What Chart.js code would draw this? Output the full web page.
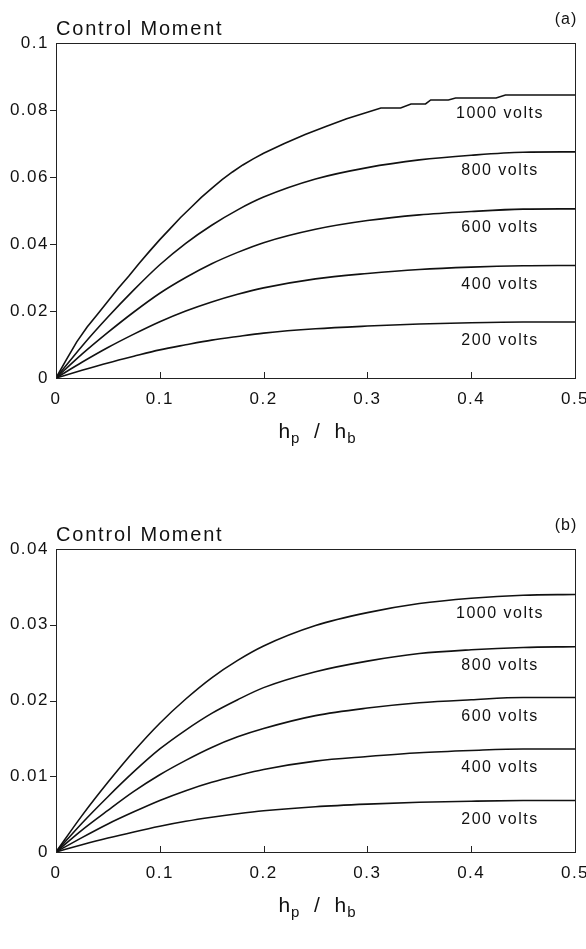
<!DOCTYPE html>
<html>
<head>
<meta charset="utf-8">
<script src="https://cdn.jsdelivr.net/npm/chart.js@4.4.0/dist/chart.umd.min.js"></script>
<style>
  html, body { margin: 0; padding: 0; background: #fff; }
  #wrap { position: relative; width: 586px; height: 949px; }
  canvas { position: absolute; left: 0; }
  #chartA { top: 0; }
  #chartB { top: 475px; }
</style>
</head>
<body>
<div id="wrap">
  <canvas id="chartA" width="586" height="475"></canvas>
  <canvas id="chartB" width="586" height="474"></canvas>
</div>
<script>
const voltLabels = ["200 volts", "400 volts", "600 volts", "800 volts", "1000 volts"];
const xTicks = [0, 0.1, 0.2, 0.3, 0.4, 0.5];
const yTicksA = [0, 0.02, 0.04, 0.06, 0.08, 0.1];
const yTicksB = [0, 0.01, 0.02, 0.03, 0.04];

// x positions for the smooth curves
const xSmooth = [0, 0.025, 0.05, 0.075, 0.1, 0.125, 0.15, 0.175, 0.2, 0.25, 0.3, 0.35, 0.4, 0.45, 0.5];

// panel (a)
const a200 = [0, 0.0023, 0.0045, 0.0065, 0.0084, 0.0099, 0.0113, 0.0124, 0.0134, 0.0147, 0.0155, 0.0161, 0.0165, 0.0167, 0.0167];
const a400 = [0, 0.0047, 0.0091, 0.0131, 0.0168, 0.0200, 0.0227, 0.0250, 0.0269, 0.0296, 0.0312, 0.0324, 0.0331, 0.0335, 0.0336];
const a600 = [0, 0.0071, 0.0136, 0.0197, 0.0253, 0.0300, 0.0341, 0.0375, 0.0404, 0.0444, 0.0470, 0.0487, 0.0497, 0.0504, 0.0505];
const a800 = [0, 0.0095, 0.0182, 0.0263, 0.0338, 0.0402, 0.0456, 0.0502, 0.0540, 0.0594, 0.0628, 0.0651, 0.0665, 0.0674, 0.0675];
// the 1000 volt curve in (a) is ragged, so it has its own x list
const xA1000 = [0, 0.01, 0.02, 0.03, 0.04, 0.05, 0.06, 0.07, 0.08, 0.09, 0.1, 0.11, 0.12, 0.13, 0.14, 0.15, 0.16, 0.17, 0.18, 0.19, 0.2,
                0.22, 0.24, 0.26, 0.28, 0.3, 0.313, 0.332, 0.342, 0.356, 0.361, 0.378, 0.385, 0.424, 0.433, 0.5];
const a1000 = [0, 0.0055, 0.0108, 0.0152, 0.019, 0.0229, 0.0268, 0.0304, 0.0342, 0.0378, 0.0413, 0.0446, 0.0479, 0.0509, 0.0539, 0.0566,
               0.0592, 0.0615, 0.0636, 0.0654, 0.0671, 0.0700, 0.0727, 0.0751, 0.0774, 0.0793, 0.0806, 0.0806, 0.0818, 0.0818, 0.083,
               0.083, 0.0836, 0.0836, 0.0845, 0.0845];

// panel (b)
const b200 = [0, 0.00095, 0.00184, 0.00265, 0.0034, 0.00405, 0.00459, 0.00505, 0.00544, 0.00598, 0.00632, 0.00656, 0.0067, 0.00679, 0.0068];
const b400 = [0, 0.0019, 0.0037, 0.0053, 0.0068, 0.0081, 0.0092, 0.0101, 0.0109, 0.0120, 0.0126, 0.0131, 0.0134, 0.0136, 0.0136];
const b600 = [0, 0.0029, 0.0055, 0.0080, 0.0102, 0.0121, 0.0138, 0.0152, 0.0163, 0.0180, 0.0190, 0.0197, 0.0201, 0.0204, 0.0204];
const b800 = [0, 0.0038, 0.0073, 0.0106, 0.0136, 0.0161, 0.0183, 0.0201, 0.0217, 0.0238, 0.0252, 0.0262, 0.0267, 0.0270, 0.0271];
const b1000 = [0, 0.0048, 0.0092, 0.0133, 0.0170, 0.0202, 0.0230, 0.0253, 0.0272, 0.0299, 0.0316, 0.0328, 0.0335, 0.0339, 0.0340];

const FONT = '"Liberation Sans", Arial, sans-serif';
const INK = "#111";

function pts(xs, ys) {
  return xs.map((x, i) => ({ x: x, y: ys[i] }));
}

function makeSet(label, xs, ys, smooth) {
  return {
    label: label,
    data: pts(xs, ys),
    borderColor: INK,
    borderWidth: 1.6,
    pointRadius: 0,
    fill: false,
    cubicInterpolationMode: smooth ? "monotone" : "default",
    tension: 0,
  };
}

function fmt(v) {
  return String(parseFloat(v.toFixed(4)));
}

const frame = {
  id: "frame",
  beforeDraw(chart) {
    chart.ctx.letterSpacing = "1.5px";
  },
  afterDraw(chart, args, opts) {
    const ctx = chart.ctx;
    const a = chart.chartArea;
    const x = chart.scales.x, y = chart.scales.y;
    ctx.save();
    ctx.strokeStyle = "#222";
    ctx.lineWidth = 1;
    ctx.strokeRect(Math.round(a.left) + 0.5, Math.round(a.top) + 0.5,
                   Math.round(a.right - a.left), Math.round(a.bottom - a.top));

    ctx.beginPath();
    xTicks.slice(1, -1).forEach(v => {
      const px = Math.round(x.getPixelForValue(v)) + 0.5;
      ctx.moveTo(px, a.bottom);
      ctx.lineTo(px, a.bottom - 6);
    });
    opts.yTicks.slice(1, -1).forEach(v => {
      const py = Math.round(y.getPixelForValue(v)) + 0.5;
      ctx.moveTo(a.left - 6, py);
      ctx.lineTo(a.left, py);
    });
    ctx.stroke();

    ctx.fillStyle = INK;
    ctx.textBaseline = "middle";
    ctx.textAlign = "left";
    ctx.font = "20px " + FONT;
    ctx.letterSpacing = "1.8px";
    ctx.fillText("Control Moment", a.left, a.top - 14);

    ctx.textAlign = "center";
    ctx.font = "16px " + FONT;
    ctx.letterSpacing = "1px";
    ctx.fillText(opts.tag, 566, a.top - 23);

    ctx.font = "16px " + FONT;
    ctx.letterSpacing = "1.5px";
    chart.data.datasets.forEach(ds => {
      const last = ds.data[ds.data.length - 1];
      ctx.fillText(ds.label, 500, y.getPixelForValue(last.y) + 19);
    });

    // axis title h_p / h_b with subscripts
    const parts = [["h", 21, 0], ["p", 15, 5], ["  /  ", 21, 0], ["h", 21, 0], ["b", 15, 5]];
    ctx.textAlign = "left";
    ctx.textBaseline = "alphabetic";
    ctx.letterSpacing = "1px";
    let total = 0;
    parts.forEach(p => { ctx.font = p[1] + "px " + FONT; total += ctx.measureText(p[0]).width; });
    let cx = (a.left + a.right) / 2 + 2 - total / 2;
    const base = a.bottom + 60;
    parts.forEach(p => {
      ctx.font = p[1] + "px " + FONT;
      ctx.fillText(p[0], cx, base + p[2]);
      cx += ctx.measureText(p[0]).width;
    });

    ctx.letterSpacing = "0px";
    ctx.restore();
    ctx.letterSpacing = "0px";
  }
};

function makeChart(id, sets, yMax, yTicks, tag, padTop) {
  const ctx = document.getElementById(id).getContext("2d");
  return new Chart(ctx, {
    type: "line",
    data: { datasets: sets },
    options: {
      responsive: false,
      animation: false,
      devicePixelRatio: 1,
      layout: { padding: { top: padTop, right: 0, left: 0, bottom: 0 } },
      plugins: {
        legend: { display: false },
        tooltip: { enabled: false },
        frame: { tag: tag, yTicks: yTicks },
      },
      scales: {
        x: {
          type: "linear",
          min: 0,
          max: 0.5,
          afterBuildTicks: s => { s.ticks = xTicks.map(v => ({ value: v })); },
          afterFit: s => { s.height = 97; s.paddingRight = 11; s.paddingLeft = 0; },
          grid: { display: true, drawOnChartArea: false, drawTicks: false },
          border: { display: false },
          ticks: {
            padding: 11,
            color: INK,
            font: { family: FONT, size: 17 },
            maxRotation: 0,
            callback: v => fmt(v),
          },
        },
        y: {
          type: "linear",
          min: 0,
          max: yMax,
          afterBuildTicks: s => { s.ticks = yTicks.map(v => ({ value: v })); },
          afterFit: s => { s.width = 56; },
          grid: { display: true, drawOnChartArea: false, drawTicks: false },
          border: { display: false },
          ticks: {
            padding: 7,
            color: INK,
            font: { family: FONT, size: 17 },
            callback: v => fmt(v),
          },
        },
      },
    },
    plugins: [frame],
  });
}

const setsA = [
  makeSet(voltLabels[0], xSmooth, a200, true),
  makeSet(voltLabels[1], xSmooth, a400, true),
  makeSet(voltLabels[2], xSmooth, a600, true),
  makeSet(voltLabels[3], xSmooth, a800, true),
  makeSet(voltLabels[4], xA1000, a1000, false),
];
const setsB = [
  makeSet(voltLabels[0], xSmooth, b200, true),
  makeSet(voltLabels[1], xSmooth, b400, true),
  makeSet(voltLabels[2], xSmooth, b600, true),
  makeSet(voltLabels[3], xSmooth, b800, true),
  makeSet(voltLabels[4], xSmooth, b1000, true),
];

makeChart("chartA", setsA, 0.1, yTicksA, "(a)", 43);
makeChart("chartB", setsB, 0.04, yTicksB, "(b)", 74);
</script>
</body>
</html>
